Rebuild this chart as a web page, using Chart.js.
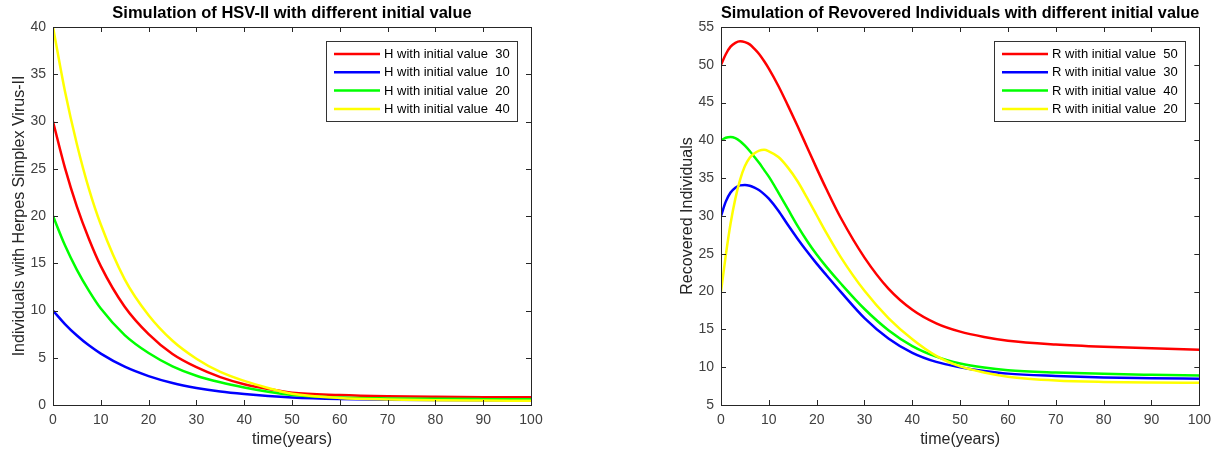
<!DOCTYPE html>
<html>
<head>
<meta charset="utf-8">
<title>HSV-II simulation</title>
<script src="https://cdn.jsdelivr.net/npm/chart.js@4.4.1/dist/chart.umd.min.js"></script>
<style>
    html, body { margin: 0; padding: 0; background: #fff; }
    body { width: 1218px; height: 459px; position: relative; overflow: hidden; }
    canvas { position: absolute; top: 0; }
    #hsvChart { left: 0; }
    #recoveredChart { left: 668px; }
</style>
</head>
<body>
<canvas id="hsvChart" width="560" height="459"></canvas>
<canvas id="recoveredChart" width="550" height="459"></canvas>
<script>
// HSV-II model runs

// left panel: infected (H)
const hTime = [0, 2.5, 5, 7.5, 10, 15, 20, 25, 30, 35, 40, 45, 50, 60, 70, 80, 90, 100];
const hInit30 = [30, 25.1, 21.0, 17.6, 14.7, 10.4, 7.5, 5.4, 4.0, 2.95, 2.2, 1.7, 1.3, 1.05, 0.92, 0.86, 0.83, 0.82];
const hInit10 = [10, 8.57, 7.35, 6.31, 5.44, 4.05, 3.06, 2.33, 1.81, 1.43, 1.16, 0.95, 0.8, 0.64, 0.56, 0.52, 0.5, 0.5];
const hInit20 = [20, 16.9, 14.3, 12.1, 10.2, 7.4, 5.5, 4.1, 3.1, 2.4, 1.85, 1.4, 1.05, 0.8, 0.7, 0.65, 0.62, 0.6];
const hInit40 = [40, 33.2, 27.6, 22.9, 19.1, 13.3, 9.5, 6.8, 4.9, 3.5, 2.55, 1.8, 1.2, 0.75, 0.58, 0.5, 0.47, 0.45];
const hLabels = ['H with initial value  30', 'H with initial value  10', 'H with initial value  20', 'H with initial value  40'];
const hTicks = [0, 5, 10, 15, 20, 25, 30, 35, 40];

// right panel: recovered (R)
const rTime = [0, 1, 2, 3, 4, 5, 6, 7, 8, 9, 10, 12, 14, 16, 18, 20, 22, 25, 30, 35, 40, 45, 50, 55, 60, 70, 80, 90, 100];
const rInit50 = [50, 51.4, 52.4, 52.9, 53.1, 53.0, 52.7, 52.1, 51.4, 50.5, 49.5, 47.2, 44.6, 41.9, 39.1, 36.3, 33.6, 29.8, 24.5, 20.4, 17.6, 15.8, 14.7, 14.0, 13.5, 13.0, 12.7, 12.5, 12.3];
const rInit30 = [30, 31.9, 33.1, 33.75, 34.05, 34.1, 34.0, 33.75, 33.4, 32.9, 32.3, 30.7, 28.8, 27.0, 25.3, 23.7, 22.2, 20.0, 16.5, 13.8, 11.9, 10.7, 10.0, 9.5, 9.15, 8.85, 8.65, 8.55, 8.46];
const rInit40 = [40, 40.35, 40.45, 40.3, 39.9, 39.3, 38.6, 37.8, 37.0, 36.1, 35.2, 33.1, 30.9, 28.7, 26.7, 24.9, 23.3, 21.1, 17.7, 14.9, 12.8, 11.4, 10.5, 9.95, 9.6, 9.3, 9.12, 9.0, 8.9];
const rInit20 = [20, 24.8, 29.0, 32.3, 34.8, 36.6, 37.7, 38.3, 38.65, 38.75, 38.55, 37.8, 36.4, 34.6, 32.4, 30.1, 27.8, 24.6, 20.1, 16.5, 13.7, 11.5, 10.1, 9.3, 8.75, 8.25, 8.05, 7.97, 7.94];
const rLabels = ['R with initial value  50', 'R with initial value  30', 'R with initial value  40', 'R with initial value  20'];
const rTicks = [5, 10, 15, 20, 25, 30, 35, 40, 45, 50, 55];

const timeTicks = [0, 10, 20, 30, 40, 50, 60, 70, 80, 90, 100];
const seriesColors = ['#FF0000', '#0000FF', '#00FF00', '#FFFF00'];

Chart.defaults.font.family = '"Liberation Sans", Arial, Helvetica, sans-serif';
Chart.defaults.color = '#404040';

// MATLAB-like box: inward ticks on all four sides + legend inside the axes
const matlabAxes = {
    id: 'matlabAxes',
    afterDatasetsDraw(chart) {
        const { ctx, chartArea, scales } = chart;
        const { left, right, top, bottom } = chartArea;
        const tick = 5;

        ctx.save();
        ctx.strokeStyle = '#262626';
        ctx.lineWidth = 1;
        ctx.beginPath();
        scales.x.ticks.forEach(t => {
            const px = Math.round(scales.x.getPixelForValue(t.value)) + 0.5;
            ctx.moveTo(px, bottom); ctx.lineTo(px, bottom - tick);
            ctx.moveTo(px, top); ctx.lineTo(px, top + tick);
        });
        scales.y.ticks.forEach(t => {
            const py = Math.round(scales.y.getPixelForValue(t.value)) + 0.5;
            ctx.moveTo(left, py); ctx.lineTo(left + tick, py);
            ctx.moveTo(right, py); ctx.lineTo(right - tick, py);
        });
        ctx.stroke();
        ctx.strokeRect(Math.round(left) + 0.5, Math.round(top) + 0.5,
            Math.round(right - left), Math.round(bottom - top));

        // legend box
        const boxX = Math.round(right) - 205;
        const boxY = Math.round(top) + 14;
        ctx.fillStyle = '#fff';
        ctx.fillRect(boxX, boxY, 191, 80);
        ctx.strokeStyle = '#333';
        ctx.strokeRect(boxX + 0.5, boxY + 0.5, 191, 80);

        ctx.font = '13px "Liberation Sans", Arial, sans-serif';
        ctx.textBaseline = 'middle';
        ctx.textAlign = 'left';
        chart.data.datasets.forEach((ds, i) => {
            const rowY = boxY + 13 + i * 18.3;
            ctx.strokeStyle = ds.borderColor;
            ctx.lineWidth = 2.5;
            ctx.beginPath();
            ctx.moveTo(boxX + 8, rowY);
            ctx.lineTo(boxX + 54, rowY);
            ctx.stroke();
            ctx.fillStyle = '#000';
            ctx.fillText(ds.label, boxX + 58, rowY + 0.5);
        });
        ctx.restore();
    }
};

function buildDatasets(time, series, labels) {
    return series.map((values, i) => ({
        label: labels[i],
        data: time.map((t, j) => ({ x: t, y: values[j] })),
        borderColor: seriesColors[i],
        backgroundColor: seriesColors[i],
        borderWidth: 2.5,
        pointRadius: 0,
        cubicInterpolationMode: 'monotone',
        // last series sits on top, like the original plot order
        order: series.length - 1 - i
    }));
}

function buildOptions(title, yLabel, yTicks, padRight) {
    return {
        responsive: false,
        animation: false,
        layout: { padding: { left: 0, right: padRight, top: 0, bottom: 0 } },
        scales: {
            x: {
                type: 'linear',
                min: timeTicks[0],
                max: timeTicks[timeTicks.length - 1],
                afterBuildTicks: (scale) => { scale.ticks = timeTicks.map(v => ({ value: v })); },
                afterFit: (scale) => { scale.height = 54; },
                grid: { display: false, drawTicks: false },
                border: { display: false },
                ticks: { padding: 7, color: '#404040', font: { size: 14 } },
                title: {
                    display: true,
                    text: 'time(years)',
                    color: '#262626',
                    font: { size: 16 },
                    padding: { top: 0, bottom: 9.4 }
                }
            },
            y: {
                min: yTicks[0],
                max: yTicks[yTicks.length - 1],
                afterBuildTicks: (scale) => { scale.ticks = yTicks.map(v => ({ value: v })); },
                afterFit: (scale) => { scale.width = 53; },
                grid: { display: false, drawTicks: false },
                border: { display: false },
                ticks: { padding: 7, color: '#404040', font: { size: 14 } },
                title: {
                    display: true,
                    text: yLabel,
                    color: '#262626',
                    font: { size: 16 },
                    padding: { top: 10, bottom: 0 }
                }
            }
        },
        plugins: {
            legend: { display: false },
            tooltip: { enabled: false },
            title: {
                display: true,
                text: title,
                color: '#000',
                fullSize: false,
                font: { size: 16.5, weight: 'bold' },
                padding: { top: 3.5, bottom: 3.7 }
            }
        }
    };
}

new Chart(document.getElementById('hsvChart'), {
    type: 'line',
    data: { datasets: buildDatasets(hTime, [hInit30, hInit10, hInit20, hInit40], hLabels) },
    options: buildOptions('Simulation of HSV-II with different initial value',
        'Individuals with Herpes Simplex Virus-II', hTicks, 29),
    plugins: [matlabAxes]
});

new Chart(document.getElementById('recoveredChart'), {
    type: 'line',
    data: { datasets: buildDatasets(rTime, [rInit50, rInit30, rInit40, rInit20], rLabels) },
    options: buildOptions('Simulation of Revovered Individuals with different initial value',
        'Recovered Individuals', rTicks, 18),
    plugins: [matlabAxes]
});
</script>
</body>
</html>
